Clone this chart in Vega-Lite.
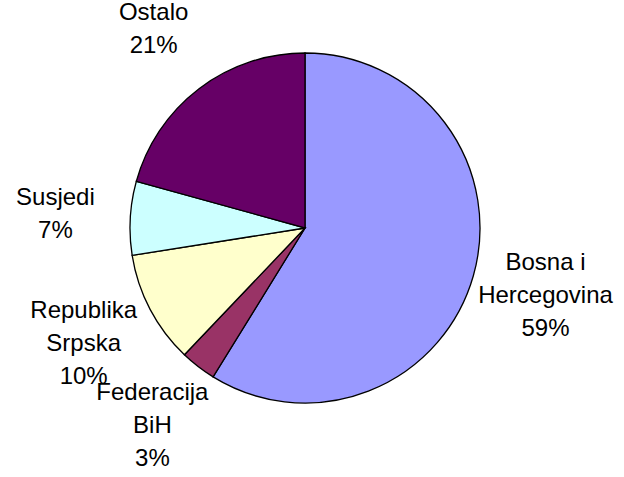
{
  "$schema": "https://vega.github.io/schema/vega-lite/v6.json",
  "width": 610,
  "height": 456,
  "autosize": {"type": "none"},
  "padding": {"left": 0, "top": 0, "right": 14, "bottom": 21},
  "background": "white",
  "config": {"view": {"stroke": null}},
  "data": {
    "values": [
      {"idx": 1, "category": "Bosna i Hercegovina", "label": "Bosna i\nHercegovina\n59%", "lines": 3, "value": 58.8},
      {"idx": 2, "category": "Federacija BiH", "label": "Federacija\nBiH\n3%", "lines": 3, "value": 3.3},
      {"idx": 3, "category": "Republika Srpska", "label": "Republika\nSrpska\n10%", "lines": 3, "value": 10.4},
      {"idx": 4, "category": "Susjedi", "label": "Susjedi\n7%", "lines": 2, "value": 6.8},
      {"idx": 5, "category": "Ostalo", "label": "Ostalo\n21%", "lines": 2, "value": 20.7}
    ]
  },
  "encoding": {
    "theta": {"field": "value", "type": "quantitative", "stack": true},
    "order": {"field": "idx", "type": "quantitative"}
  },
  "layer": [
    {
      "mark": {"type": "arc", "outerRadius": 175, "stroke": "black", "strokeWidth": 1.3},
      "encoding": {
        "color": {
          "field": "category",
          "type": "nominal",
          "scale": {
            "domain": ["Bosna i Hercegovina", "Federacija BiH", "Republika Srpska", "Susjedi", "Ostalo"],
            "range": ["#9999FF", "#993366", "#FFFFCC", "#CCFFFF", "#660066"]
          },
          "legend": null
        }
      }
    },
    {
      "mark": {
        "type": "text",
        "radius": 250,
        "dy": -33,
        "fontSize": 24,
        "font": "Liberation Sans",
        "lineBreak": "\n",
        "lineHeight": 33,
        "align": "center",
        "baseline": "middle",
        "color": "black"
      },
      "encoding": {
        "text": {"condition": {"test": "datum.lines != 3", "value": ""}, "field": "label", "type": "nominal"}
      }
    },
    {
      "mark": {
        "type": "text",
        "radius": 250,
        "dy": -16,
        "fontSize": 24,
        "font": "Liberation Sans",
        "lineBreak": "\n",
        "lineHeight": 33,
        "align": "center",
        "baseline": "middle",
        "color": "black"
      },
      "encoding": {
        "text": {"condition": {"test": "datum.lines != 2", "value": ""}, "field": "label", "type": "nominal"}
      }
    }
  ]
}
